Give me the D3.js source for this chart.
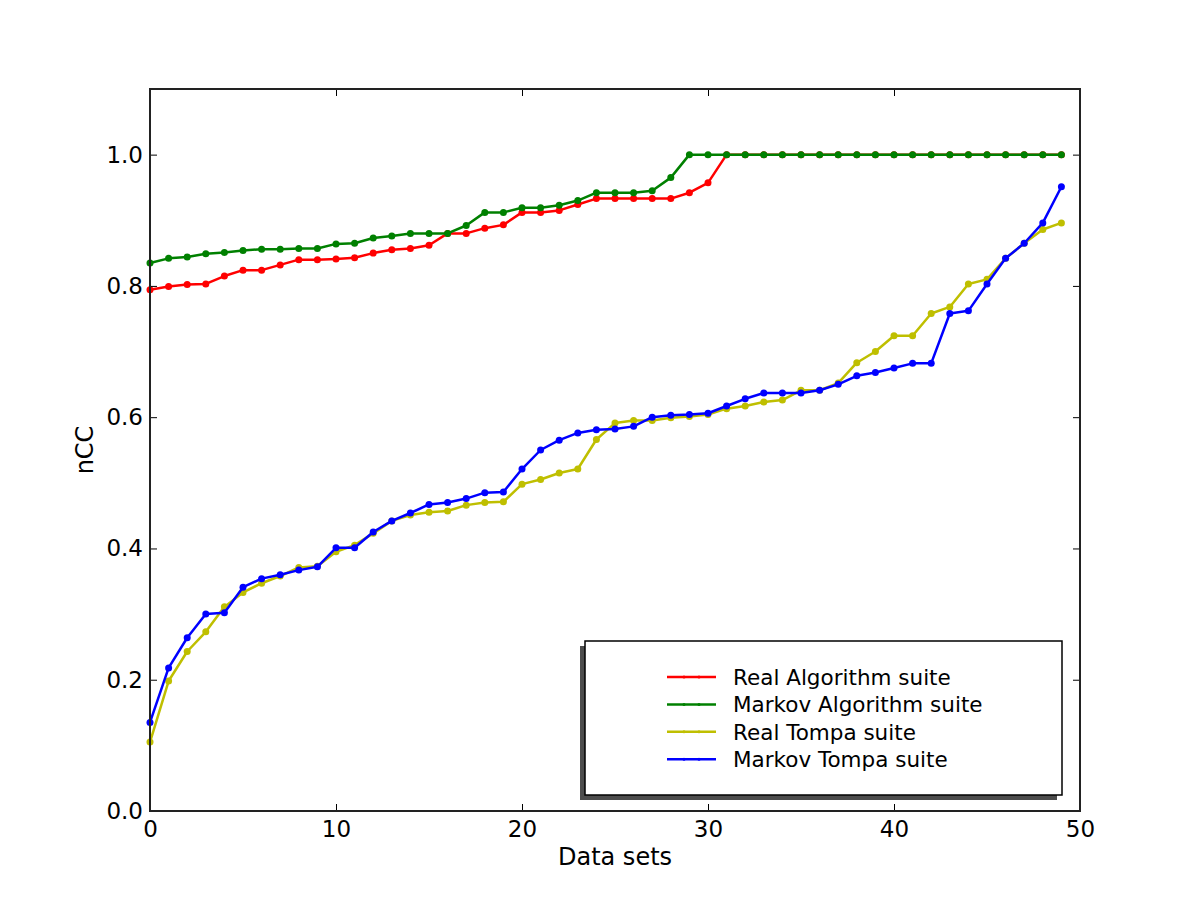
<!DOCTYPE html>
<meta charset="utf-8">
<script src="https://d3js.org/d3.v7.min.js"></script>
<head>
    <title>nCC per data set</title>
    <style>
        body { margin: 0; background: #fff; }
        text { font-family: "DejaVu Sans", sans-serif; }
    </style>
</head>
<body>
    <div id="chart"></div>
<script>
    // values, index 0..49
    const realAlgorithm = [
        0.794, 0.799, 0.802, 0.803, 0.815, 0.824, 0.824, 0.832, 0.840, 0.840,
        0.841, 0.843, 0.850, 0.855, 0.857, 0.862, 0.880, 0.880, 0.888, 0.893,
        0.912, 0.912, 0.915, 0.924, 0.933, 0.933, 0.933, 0.933, 0.933, 0.942,
        0.957, 1.0, 1.0, 1.0, 1.0, 1.0, 1.0, 1.0, 1.0, 1.0,
        1.0, 1.0, 1.0, 1.0, 1.0, 1.0, 1.0, 1.0, 1.0, 1.0
    ];
    const markovAlgorithm = [
        0.835, 0.842, 0.844, 0.849, 0.851, 0.854, 0.856, 0.856, 0.857, 0.857,
        0.864, 0.865, 0.873, 0.876, 0.880, 0.880, 0.880, 0.892, 0.912, 0.912,
        0.919, 0.919, 0.923, 0.930, 0.942, 0.942, 0.942, 0.945, 0.965, 1.0,
        1.0, 1.0, 1.0, 1.0, 1.0, 1.0, 1.0, 1.0, 1.0, 1.0,
        1.0, 1.0, 1.0, 1.0, 1.0, 1.0, 1.0, 1.0, 1.0, 1.0
    ];
    const realTompa = [
        0.105, 0.198, 0.243, 0.273, 0.311, 0.333, 0.347, 0.358, 0.371, 0.373,
        0.395, 0.405, 0.423, 0.442, 0.451, 0.455, 0.457, 0.466, 0.470, 0.471,
        0.498, 0.505, 0.515, 0.521, 0.566, 0.591, 0.595, 0.595, 0.599, 0.601,
        0.604, 0.613, 0.617, 0.623, 0.626, 0.641, 0.641, 0.652, 0.683, 0.700,
        0.724, 0.724, 0.758, 0.768, 0.803, 0.810, 0.842, 0.865, 0.886, 0.896
    ];
    const markovTompa = [
        0.135, 0.218, 0.264, 0.300, 0.302, 0.341, 0.354, 0.360, 0.367, 0.372,
        0.401, 0.401, 0.425, 0.442, 0.454, 0.467, 0.470, 0.476, 0.485, 0.486,
        0.521, 0.550, 0.565, 0.576, 0.581, 0.582, 0.586, 0.600, 0.603, 0.604,
        0.606, 0.617, 0.628, 0.637, 0.637, 0.637, 0.641, 0.650, 0.663, 0.668,
        0.675, 0.682, 0.682, 0.758, 0.762, 0.803, 0.842, 0.865, 0.896, 0.951
    ];

    const seriesNames = ["Real Algorithm suite", "Markov Algorithm suite", "Real Tompa suite", "Markov Tompa suite"];
    const seriesColors = ["#ff0000", "#008000", "#bfbf00", "#0000ff"];
    const seriesValues = [realAlgorithm, markovAlgorithm, realTompa, markovTompa];

    const xTicks = [0, 10, 20, 30, 40, 50];
    const yTicks = [0.0, 0.2, 0.4, 0.6, 0.8, 1.0];

    const margin = {top: 89, right: 120, bottom: 89, left: 150},
        width = 1200 - margin.left - margin.right,
        height = 900 - margin.top - margin.bottom;

    const svg = d3.select("#chart")
        .append("svg")
        .attr("width", 1200)
        .attr("height", 900)
        .append("g")
        .attr("transform", `translate(${margin.left}, ${margin.top})`);

    const x = d3.scaleLinear().domain([0, 50]).range([0, width]);
    const y = d3.scaleLinear().domain([0, 1.1]).range([height, 0]);

    // lines and markers
    const line = d3.line()
        .x((d, i) => x(i))
        .y(d => y(d));

    seriesValues.forEach((vals, k) => {
        svg.append("path")
            .datum(vals)
            .attr("d", line)
            .attr("fill", "none")
            .attr("stroke", seriesColors[k])
            .attr("stroke-width", 2.5)
            .attr("stroke-linejoin", "round");
        svg.append("g")
            .selectAll("circle")
            .data(vals)
            .join("circle")
            .attr("cx", (d, i) => x(i))
            .attr("cy", d => y(d))
            .attr("r", 3.5)
            .attr("fill", seriesColors[k]);
    });

    // axes with inward ticks on all four sides
    const fmtY = d3.format(".1f");
    const tickLen = 7;
    const axisStyle = g => {
        g.select(".domain").remove();
        g.selectAll(".tick line").attr("stroke", "#000").attr("stroke-width", 1);
        g.selectAll(".tick text")
            .attr("font-size", 23)
            .attr("font-family", "DejaVu Sans, sans-serif")
            .attr("fill", "#000");
    };

    svg.append("g")
        .attr("transform", `translate(0, ${height})`)
        .call(d3.axisBottom(x).tickValues(xTicks).tickSizeInner(-tickLen).tickSizeOuter(0).tickPadding(10))
        .call(axisStyle);
    svg.append("g")
        .call(d3.axisTop(x).tickValues(xTicks).tickSizeInner(-tickLen).tickSizeOuter(0).tickFormat(""))
        .call(axisStyle);
    svg.append("g")
        .call(d3.axisLeft(y).tickValues(yTicks).tickFormat(fmtY).tickSizeInner(-tickLen).tickSizeOuter(0).tickPadding(7))
        .call(axisStyle);
    svg.append("g")
        .attr("transform", `translate(${width}, 0)`)
        .call(d3.axisRight(y).tickValues(yTicks).tickSizeInner(-tickLen).tickSizeOuter(0).tickFormat(""))
        .call(axisStyle);

    // frame
    svg.append("rect")
        .attr("width", width)
        .attr("height", height)
        .attr("fill", "none")
        .attr("stroke", "#222")
        .attr("stroke-width", 2);

    // axis labels
    svg.append("text")
        .attr("x", width / 2)
        .attr("y", height + 54)
        .attr("text-anchor", "middle")
        .attr("font-size", 24)
        .text("Data sets");
    svg.append("text")
        .attr("transform", `translate(${-57}, ${height / 2}) rotate(-90)`)
        .attr("text-anchor", "middle")
        .attr("font-size", 24)
        .text("nCC");

    // legend
    const lg = {x: 435, y: 552, w: 477, h: 154};
    svg.append("rect")
        .attr("x", lg.x - 5).attr("y", lg.y + 5)
        .attr("width", lg.w).attr("height", lg.h)
        .attr("fill", "#4d4d4d");
    svg.append("rect")
        .attr("x", lg.x).attr("y", lg.y)
        .attr("width", lg.w).attr("height", lg.h)
        .attr("fill", "#fff")
        .attr("stroke", "#000")
        .attr("stroke-width", 1.5);

    const rows = svg.append("g")
        .selectAll("g")
        .data(seriesNames)
        .join("g")
        .attr("transform", (d, i) => `translate(${lg.x + 82}, ${lg.y + 36 + i * 27.4})`);
    rows.append("line")
        .attr("x1", 0).attr("x2", 49)
        .attr("stroke", (d, i) => seriesColors[i])
        .attr("stroke-width", 2.5);
    rows.append("circle").attr("cx", 17).attr("r", 1.5).attr("fill", (d, i) => seriesColors[i]);
    rows.append("circle").attr("cx", 32).attr("r", 1.5).attr("fill", (d, i) => seriesColors[i]);
    rows.append("text")
        .attr("x", 66)
        .attr("y", 8)
        .attr("font-size", 21.5)
        .text(d => d);
</script>
</body>
